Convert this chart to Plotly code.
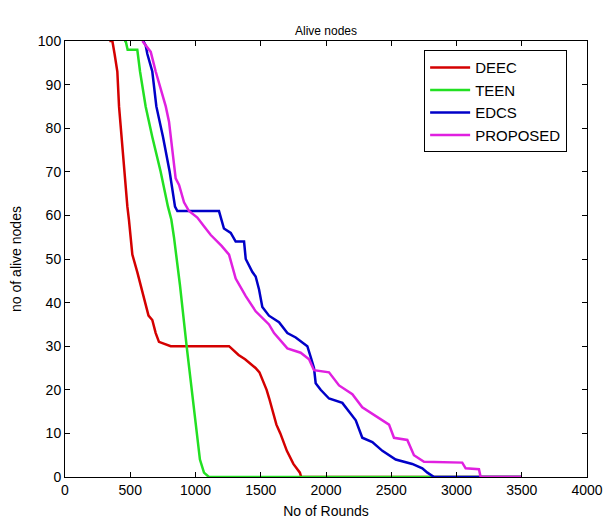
import plotly.graph_objects as go

# ---- data ----
deec_x = [340, 363, 380, 401, 414, 432, 457, 478, 490, 503, 516, 554, 580, 618, 640, 669, 695, 720, 810,
          1257, 1290, 1330, 1380, 1420, 1460, 1490, 1520, 1545, 1565, 1585, 1600, 1620, 1650, 1700, 1750,
          1800, 1810, 3500]
deec_y = [100, 100, 97, 93, 85, 78, 70, 62, 59, 55, 51, 47, 44, 39, 37, 36, 33, 31, 30,
          30, 29, 28, 27, 26, 25, 24, 22, 20, 18, 16, 14, 12, 10, 6, 3,
          1, 0, 0]

teen_x = [452, 465, 480, 554, 575, 618, 669, 733, 789, 815, 835, 881, 932, 968, 996, 1034, 1065, 1103, 3500]
teen_y = [100, 100, 98, 98, 93, 85, 78, 70, 62, 59, 55, 44, 30, 21, 13, 4, 1, 0, 0]

edcs_x = [600, 618, 631, 669, 700, 751, 802, 843, 861, 1180, 1218, 1270, 1308, 1372, 1385, 1436, 1461,
          1487, 1512, 1563, 1640, 1704, 1768, 1857, 1883, 1908, 1921, 1959, 2023, 2125, 2176, 2228,
          2278, 2355, 2432, 2534, 2661, 2738, 2777, 2828, 3500]
edcs_y = [100, 99, 97, 93, 85, 78, 70, 62, 61, 61, 57, 56, 54, 54, 50, 47, 46,
          43, 39, 37, 35.5, 33, 32, 30, 27.5, 25, 21.5, 20, 18, 17, 15, 13,
          9, 8, 6, 4, 3, 2, 1, 0, 0]

prop_x = [593, 657, 695, 733, 772, 797, 810, 822, 848, 874, 912, 950, 1014, 1065, 1117, 1200, 1257,
          1308, 1385, 1461, 1563, 1602, 1704, 1806, 1870, 1908, 2023, 2100, 2202, 2278, 2381, 2483,
          2521, 2623, 2674, 2751, 3044, 3070, 3172, 3185, 3500]
prop_y = [100, 97.5, 93, 89, 85, 81.5, 78, 74, 68.5, 67, 63, 61, 59.5, 57.5, 55.5, 53, 51,
          45.5, 41.5, 38, 35, 33, 29.5, 28.5, 27, 24.5, 24, 21, 19, 16, 14, 12,
          9, 8.5, 5, 3.5, 3.3, 2, 1.8, 0, 0]

series_names = ["DEEC", "TEEN", "EDCS", "PROPOSED"]
series_colors = ["#d40000", "#22e022", "#0000c8", "#e020e0"]

x_ticks = [0, 500, 1000, 1500, 2000, 2500, 3000, 3500, 4000]
y_ticks = [0, 10, 20, 30, 40, 50, 60, 70, 80, 90, 100]

fig = go.Figure()
for name, xs, ys, col in zip(series_names,
                             [deec_x, teen_x, edcs_x, prop_x],
                             [deec_y, teen_y, edcs_y, prop_y],
                             series_colors):
    fig.add_trace(go.Scatter(x=xs, y=ys, mode="lines", name=name,
                             line=dict(color=col, width=2.5)))

font_family = "Liberation Sans, Arial, sans-serif"
axis_common = dict(showline=True, linecolor="black", linewidth=1, mirror="ticks",
                   ticks="inside", ticklen=5, tickcolor="black", showgrid=False,
                   zeroline=False, tickfont=dict(family=font_family, size=14, color="black"))

fig.update_layout(
    width=609, height=523,
    margin=dict(l=65, r=22, t=41, b=46),
    paper_bgcolor="white", plot_bgcolor="white",
    font=dict(family=font_family, color="black"),
    title=dict(text="Alive nodes", x=0.5, xref="paper", y=(523 - 31) / 523, yref="container",
               xanchor="center", yanchor="middle", font=dict(size=12, family=font_family)),
    xaxis=dict(range=[0, 4000], tickvals=x_ticks, ticktext=[str(v) for v in x_ticks],
               title=dict(text="No of Rounds", font=dict(size=14), standoff=9),
               automargin=False, **axis_common),
    yaxis=dict(range=[0, 100], tickvals=y_ticks, ticktext=[str(v) for v in y_ticks],
               title=dict(text="no of alive nodes", font=dict(size=14), standoff=12),
               automargin=False, **axis_common),
    legend=dict(x=0.688, y=0.979, xanchor="left", yanchor="top",
                bordercolor="black", borderwidth=1, bgcolor="white",
                font=dict(size=15, family=font_family), tracegroupgap=0,
                itemwidth=40),
    showlegend=True,
)

fig.write_html("out.html", config={"displayModeBar": False},
               post_script="document.body.style.margin='0';document.body.style.overflow='hidden';")
